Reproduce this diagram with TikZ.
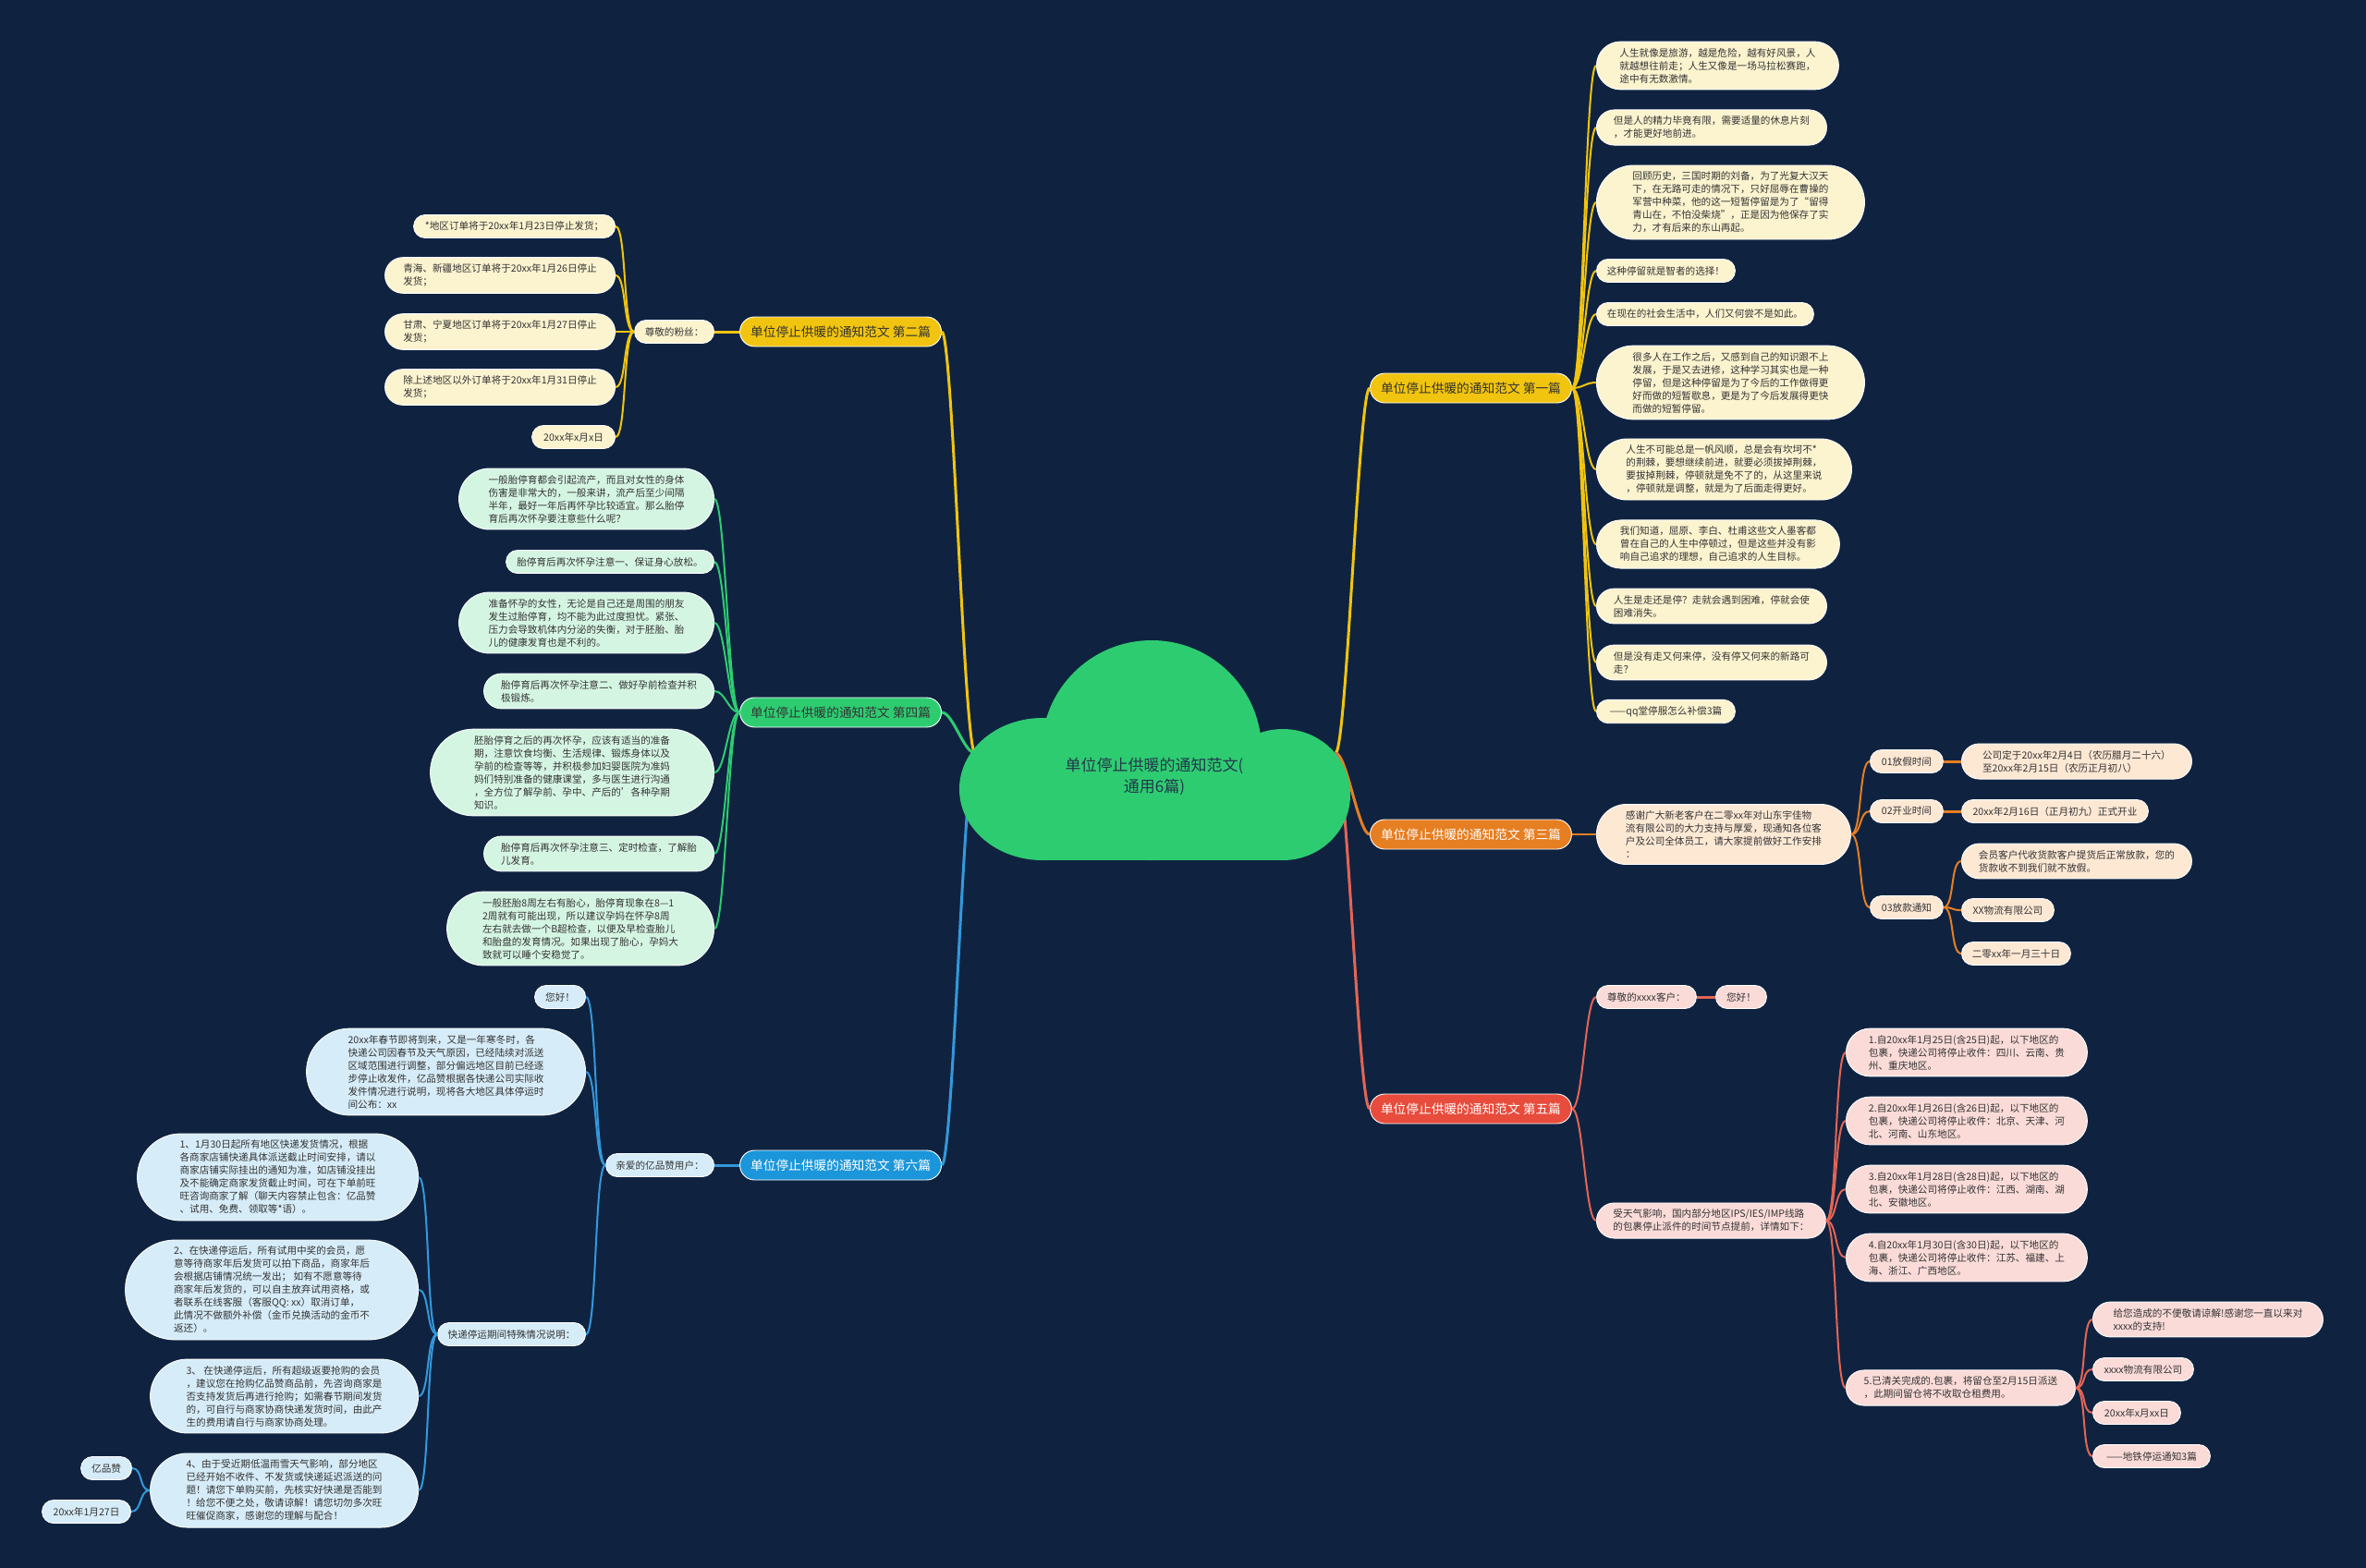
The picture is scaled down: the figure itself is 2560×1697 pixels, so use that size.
\documentclass[tikz,border=0pt]{standalone}
\usepackage{fontspec}
\setmainfont{Noto Sans CJK SC}
\usetikzlibrary{shapes.misc}
\definecolor{bgc}{RGB}{15,35,64}
\definecolor{ltext}{RGB}{51,51,51}
\definecolor{cloudc}{RGB}{46,204,113}
\definecolor{roottext}{RGB}{35,55,75}
\definecolor{cYb}{RGB}{241,196,15}
\definecolor{cYl}{RGB}{252,243,207}
\definecolor{cOb}{RGB}{230,126,34}
\definecolor{cOl}{RGB}{253,232,212}
\definecolor{cRb}{RGB}{231,76,60}
\definecolor{cRl}{RGB}{250,219,216}
\definecolor{cRline}{RGB}{229,100,85}
\definecolor{cGb}{RGB}{46,204,113}
\definecolor{cGl}{RGB}{213,245,227}
\definecolor{cBb}{RGB}{27,150,218}
\definecolor{cBl}{RGB}{214,236,248}
\definecolor{cBline}{RGB}{52,152,219}
\begin{document}
\begin{tikzpicture}[x=1pt,y=-1pt,
  leaf/.style={rounded rectangle, draw=white, line width=0.9pt, inner xsep=8pt, inner ysep=7pt,
    minimum height=25pt, align=left, font=\fontsize{10.6}{14}\selectfont, text=ltext},
  yleaf/.style={leaf, fill=cYl},
  oleaf/.style={leaf, fill=cOl},
  rleaf/.style={leaf, fill=cRl},
  gleaf/.style={leaf, fill=cGl},
  bleaf/.style={leaf, fill=cBl},
  w/.style={minimum width=#1pt+15pt},
  branch/.style={rounded rectangle, draw=white, line width=0.9pt, inner xsep=4pt, inner ysep=9pt,
    minimum width=226pt, minimum height=32pt, font=\fontsize{13.7}{16}\selectfont},
  rc/.style={to path={.. controls +(12,0) and +(-12,0) .. (\tikztotarget)}},
  lc/.style={to path={.. controls +(-12,0) and +(12,0) .. (\tikztotarget)}},
  big/.style={line width=3pt},
  thin/.style={line width=2pt}
]
\useasboundingbox (0,0) rectangle (2560,1697);
\fill[bgc] (0,0) rectangle (2560,1697);

% ---------- branch nodes ----------
\node[branch, fill=cYb, text=ltext, anchor=west] (b1) at (1482,420) {单位停止供暖的通知范文 第一篇};
\node[branch, fill=cOb, text=white, anchor=west] (b3) at (1482,903) {单位停止供暖的通知范文 第三篇};
\node[branch, fill=cRb, text=white, anchor=west] (b5) at (1482,1200) {单位停止供暖的通知范文 第五篇};
\node[branch, fill=cYb, text=ltext, anchor=east] (b2) at (1019,359) {单位停止供暖的通知范文 第二篇};
\node[branch, fill=cGb, text=ltext, anchor=east] (b4) at (1019,771) {单位停止供暖的通知范文 第四篇};
\node[branch, fill=cBb, text=white, anchor=east] (b6) at (1019,1261) {单位停止供暖的通知范文 第六篇};

% ---------- branch 1 ----------
\begin{scope}[every node/.style={yleaf, anchor=west}]
\node[w=263] (a1) at (1727,71) {人生就像是旅游，越是危险，越有好风景，人\\就越想往前走；人生又像是一场马拉松赛跑，\\途中有无数激情。};
\node[w=250] (a2) at (1727,138) {但是人的精力毕竟有限，需要适量的休息片刻\\，才能更好地前进。};
\node[w=291] (a3) at (1727,219) {回顾历史，三国时期的刘备，为了光复大汉天\\下，在无路可走的情况下，只好屈辱在曹操的\\军营中种菜，他的这一短暂停留是为了“留得\\青山在，不怕没柴烧”，正是因为他保存了实\\力，才有后来的东山再起。};
\node[w=151] (a4) at (1727,293) {这种停留就是智者的选择！};
\node[w=236] (a5) at (1727,340) {在现在的社会生活中，人们又何尝不是如此。};
\node[w=291] (a6) at (1727,414) {很多人在工作之后，又感到自己的知识跟不上\\发展，于是又去进修，这种学习其实也是一种\\停留，但是这种停留是为了今后的工作做得更\\好而做的短暂歇息，更是为了今后发展得更快\\而做的短暂停留。};
\node[w=277] (a7) at (1727,508) {人生不可能总是一帆风顺，总是会有坎坷不*\\的荆棘，要想继续前进，就要必须拔掉荆棘，\\要拔掉荆棘，停顿就是免不了的，从这里来说\\，停顿就是调整，就是为了后面走得更好。};
\node[w=264] (a8) at (1727,589) {我们知道，屈原、李白、杜甫这些文人墨客都\\曾在自己的人生中停顿过，但是这些并没有影\\响自己追求的理想，自己追求的人生目标。};
\node[w=250] (a9) at (1727,656) {人生是走还是停？走就会遇到困难，停就会使\\困难消失。};
\node[w=250] (a10) at (1727,717) {但是没有走又何来停，没有停又何来的新路可\\走？};
\node[w=151] (a11) at (1727,770) {——qq堂停服怎么补偿3篇};
\end{scope}
\foreach \n in {a1,a2,a3,a4,a5,a6,a7,a8,a9,a10,a11}
  \draw[cYb, thin, rc] (b1.east) to (\n.west);

% ---------- branch 3 ----------
\begin{scope}[every node/.style={oleaf, anchor=west}]
\node[w=276] (c0) at (1727,903) {感谢广大新老客户在二零xx年对山东宇佳物\\流有限公司的大力支持与厚爱，现通知各位客\\户及公司全体员工，请大家提前做好工作安排\\：};
\node[w=80] (c1) at (2023,824) {01放假时间};
\node[w=80] (c2) at (2023,878) {02开业时间};
\node[w=80] (c3) at (2023,982) {03放款通知};
\node[w=250] (c11) at (2122,824) {公司定于20xx年2月4日（农历腊月二十六）\\至20xx年2月15日（农历正月初八）};
\node[w=203] (c21) at (2122,878) {20xx年2月16日（正月初九）正式开业};
\node[w=250] (c31) at (2122,932) {会员客户代收货款客户提货后正常放款，您的\\货款收不到我们就不放假。};
\node[w=101] (c32) at (2122,985) {XX物流有限公司};
\node[w=119] (c33) at (2122,1032) {二零xx年一月三十日};
\end{scope}
\draw[cOb, thin, rc] (b3.east) to (c0.west);
\foreach \n in {c1,c2,c3} \draw[cOb, thin, rc] (c0.east) to (\n.west);
\draw[cOb, big, rc] (c1.east) to (c11.west);
\draw[cOb, big, rc] (c2.east) to (c21.west);
\foreach \n in {c31,c32,c33} \draw[cOb, thin, rc] (c3.east) to (\n.west);

% ---------- branch 5 ----------
\begin{scope}[every node/.style={rleaf, anchor=west}]
\node[w=109] (d1) at (1727,1079) {尊敬的xxxx客户：};
\node[w=56] (d11) at (1856,1079) {您好！};
\node[w=249] (d2) at (1727,1321) {受天气影响，国内部分地区IPS/IES/IMP线路\\的包裹停止派件的时间节点提前，详情如下：};
\node[w=262] (e1) at (1997,1139) {1.自20xx年1月25日(含25日)起，以下地区的\\包裹，快递公司将停止收件：四川、云南、贵\\州、重庆地区。};
\node[w=262] (e2) at (1997,1213) {2.自20xx年1月26日(含26日)起，以下地区的\\包裹，快递公司将停止收件：北京、天津、河\\北、河南、山东地区。};
\node[w=262] (e3) at (1997,1287) {3.自20xx年1月28日(含28日)起，以下地区的\\包裹，快递公司将停止收件：江西、湖南、湖\\北、安徽地区。};
\node[w=262] (e4) at (1997,1361) {4.自20xx年1月30日(含30日)起，以下地区的\\包裹，快递公司将停止收件：江苏、福建、上\\海、浙江、广西地区。};
\node[w=249] (e5) at (1997,1502) {5.已清关完成的.包裹，将留仓至2月15日派送\\，此期间留仓将不收取仓租费用。};
\node[w=250] (f1) at (2264,1428) {给您造成的不便敬请谅解!感谢您一直以来对\\xxxx的支持!};
\node[w=110] (f2) at (2264,1482) {xxxx物流有限公司};
\node[w=96] (f3) at (2264,1529) {20xx年x月xx日};
\node[w=128] (f4) at (2264,1576) {——地铁停运通知3篇};
\end{scope}
\draw[cRline, thin, rc] (b5.east) to (d1.west);
\draw[cRline, thin, rc] (b5.east) to (d2.west);
\draw[cRline, big, rc] (d1.east) to (d11.west);
\foreach \n in {e1,e2,e3,e4,e5} \draw[cRline, thin, rc] (d2.east) to (\n.west);
\foreach \n in {f1,f2,f3,f4} \draw[cRline, thin, rc] (e5.east) to (\n.west);

% ---------- branch 2 ----------
\begin{scope}[every node/.style={yleaf, anchor=east}]
\node[w=87] (g0) at (773,359) {尊敬的粉丝：};
\node[w=219] (g1) at (666,245) {*地区订单将于20xx年1月23日停止发货；};
\node[w=250] (g2) at (666,298) {青海、新疆地区订单将于20xx年1月26日停止\\发货；};
\node[w=250] (g3) at (666,359) {甘肃、宁夏地区订单将于20xx年1月27日停止\\发货；};
\node[w=250] (g4) at (666,419) {除上述地区以外订单将于20xx年1月31日停止\\发货；};
\node[w=91] (g5) at (666,473) {20xx年x月x日};
\end{scope}
\draw[cYb, big, lc] (b2.west) to (g0.east);
\foreach \n in {g1,g2,g3,g4,g5} \draw[cYb, thin, lc] (g0.west) to (\n.east);

% ---------- branch 4 ----------
\begin{scope}[every node/.style={gleaf, anchor=east}]
\node[w=277] (h1) at (773,540) {一般胎停育都会引起流产，而且对女性的身体\\伤害是非常大的，一般来讲，流产后至少间隔\\半年，最好一年后再怀孕比较适宜。那么胎停\\育后再次怀孕要注意些什么呢？};
\node[w=226] (h2) at (773,608) {胎停育后再次怀孕注意一、保证身心放松。};
\node[w=277] (h3) at (773,674) {准备怀孕的女性，无论是自己还是周围的朋友\\发生过胎停育，均不能为此过度担忧。紧张、\\压力会导致机体内分泌的失衡，对于胚胎、胎\\儿的健康发育也是不利的。};
\node[w=250] (h4) at (773,748) {胎停育后再次怀孕注意二、做好孕前检查并积\\极锻炼。};
\node[w=308] (h5) at (773,836) {胚胎停育之后的再次怀孕，应该有适当的准备\\期，注意饮食均衡、生活规律、锻炼身体以及\\孕前的检查等等，并积极参加妇婴医院为准妈\\妈们特别准备的健康课堂，多与医生进行沟通\\，全方位了解孕前、孕中、产后的'各种孕期\\知识。};
\node[w=250] (h6) at (773,924) {胎停育后再次怀孕注意三、定时检查，了解胎\\儿发育。};
\node[w=290] (h7) at (773,1005) {一般胚胎8周左右有胎心，胎停育现象在8—1\\2周就有可能出现，所以建议孕妈在怀孕8周\\左右就去做一个B超检查，以便及早检查胎儿\\和胎盘的发育情况。如果出现了胎心，孕妈大\\致就可以睡个安稳觉了。};
\end{scope}
\foreach \n in {h1,h2,h3,h4,h5,h6,h7} \draw[cGb, thin, lc] (b4.west) to (\n.east);

% ---------- branch 6 ----------
\begin{scope}[every node/.style={bleaf, anchor=east}]
\node[w=118] (k0) at (773,1261) {亲爱的亿品赞用户：};
\node[w=56] (k1) at (634,1079) {您好！};
\node[w=303] (k2) at (634,1160) {20xx年春节即将到来，又是一年寒冬时，各\\快递公司因春节及天气原因，已经陆续对派送\\区域范围进行调整，部分偏远地区目前已经逐\\步停止收发件，亿品赞根据各快递公司实际收\\发件情况进行说明，现将各大地区具体停运时\\间公布：xx};
\node[w=161] (k3) at (634,1444) {快递停运期间特殊情况说明：};
\node[w=305] (m1) at (453,1274) {1、1月30日起所有地区快递发货情况，根据\\各商家店铺快递具体派送截止时间安排，请以\\商家店铺实际挂出的通知为准，如店铺没挂出\\及不能确定商家发货截止时间，可在下单前旺\\旺咨询商家了解（聊天内容禁止包含：亿品赞\\、试用、免费、领取等*语）。};
\node[w=318] (m2) at (453,1396) {2、在快递停运后，所有试用中奖的会员，愿\\意等待商家年后发货可以拍下商品，商家年后\\会根据店铺情况统一发出； 如有不愿意等待\\商家年后发货的，可以自主放弃试用资格，或\\者联系在线客服（客服QQ: xx）取消订单，\\此情况不做额外补偿（金币兑换活动的金币不\\返还）。};
\node[w=291] (m3) at (453,1511) {3、 在快递停运后，所有超级返要抢购的会员\\，建议您在抢购亿品赞商品前，先咨询商家是\\否支持发货后再进行抢购；如需春节期间发货\\的，可自行与商家协商快递发货时间，由此产\\生的费用请自行与商家协商处理。};
\node[w=291] (m4) at (453,1613) {4、由于受近期低温雨雪天气影响，部分地区\\已经开始不收件、不发货或快递延迟派送的问\\题！请您下单购买前，先核实好快递是否能到\\！给您不便之处，敬请谅解！请您切勿多次旺\\旺催促商家，感谢您的理解与配合！};
\node[w=56] (n1) at (143,1589) {亿品赞};
\node[w=97] (n2) at (142,1636) {20xx年1月27日};
\end{scope}
\draw[cBline, big, lc] (b6.west) to (k0.east);
\foreach \n in {k1,k2,k3} \draw[cBline, thin, lc] (k0.west) to (\n.east);
\foreach \n in {m1,m2,m3,m4} \draw[cBline, thin, lc] (k3.west) to (\n.east);
\foreach \n in {n1,n2} \draw[cBline, thin, lc] (m4.west) to (\n.east);

% ---------- root connectors ----------
\coordinate (cr) at (1445,815);
\coordinate (cl) at (1055,815);
\draw[cYb, big, rc] (cr) to (b1.west);
\draw[cOb, big, rc] (cr) to (b3.west);
\draw[cRline, big, rc] (cr) to (b5.west);
\draw[cYb, big, lc] (cl) to (b2.east);
\draw[cGb, big, lc] (cl) to (b4.east);
\draw[cBline, big, lc] (cl) to (b6.east);

% ---------- cloud ----------
\fill[cloudc] (1246,812) circle[radius=119pt];
\fill[cloudc] (1128,854) ellipse[x radius=90pt, y radius=77pt];
\fill[cloudc] (1388,860) ellipse[x radius=73pt, y radius=71pt];
\fill[cloudc] (1128,849) rectangle (1388,931);
\node[font=\fontsize{17}{23}\selectfont, align=center, text=roottext] (root) at (1249,840) {单位停止供暖的通知范文(\\通用6篇)};
\end{tikzpicture}
\end{document}
